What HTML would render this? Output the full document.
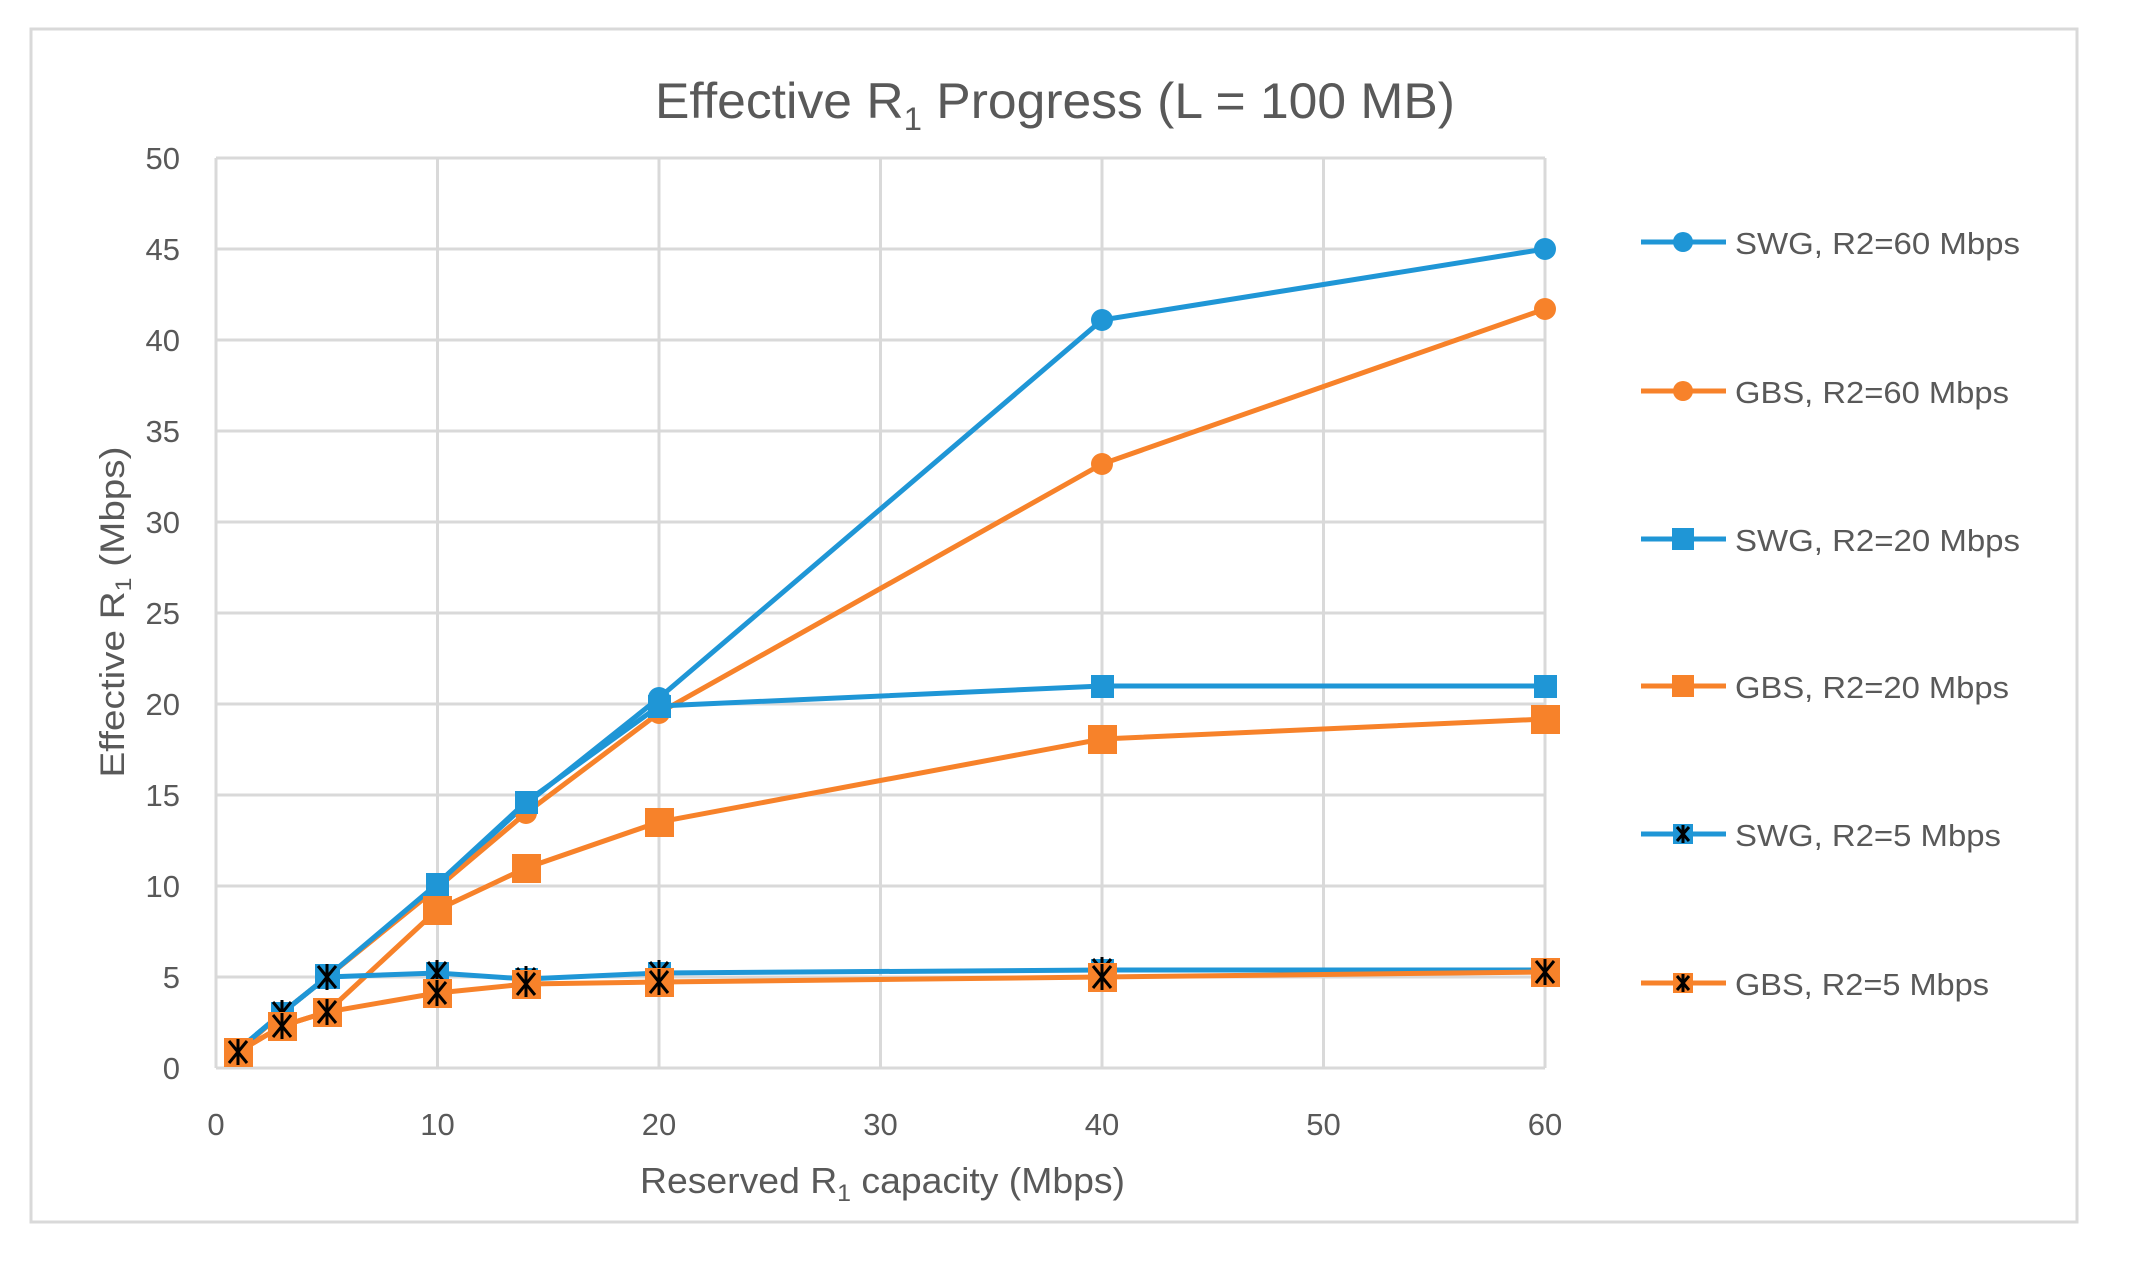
<!DOCTYPE html>
<html><head><meta charset="utf-8"><style>html,body{margin:0;padding:0;background:#fff}svg{display:block}</style></head>
<body>
<svg width="2129" height="1266" viewBox="0 0 2129 1266" xmlns="http://www.w3.org/2000/svg" font-family="Liberation Sans, sans-serif">
<rect x="0" y="0" width="2129" height="1266" fill="#fff"/>
<rect x="31" y="29" width="2046" height="1193" fill="#fff" stroke="#d9d9d9" stroke-width="3"/>
<text x="1055" y="118" font-size="50" fill="#595959" text-anchor="middle" textLength="800" lengthAdjust="spacingAndGlyphs">Effective R<tspan font-size="32" dy="12">1</tspan><tspan dy="-12"> Progress (L = 100 MB)</tspan></text>
<g stroke="#d9d9d9" stroke-width="3">
<line x1="216" y1="158" x2="1545" y2="158"/><line x1="216" y1="249" x2="1545" y2="249"/><line x1="216" y1="340" x2="1545" y2="340"/><line x1="216" y1="431" x2="1545" y2="431"/><line x1="216" y1="522" x2="1545" y2="522"/><line x1="216" y1="613" x2="1545" y2="613"/><line x1="216" y1="704" x2="1545" y2="704"/><line x1="216" y1="795" x2="1545" y2="795"/><line x1="216" y1="886" x2="1545" y2="886"/><line x1="216" y1="977" x2="1545" y2="977"/><line x1="216" y1="1068" x2="1545" y2="1068"/>
<line x1="216" y1="158" x2="216" y2="1068"/><line x1="437.5" y1="158" x2="437.5" y2="1068"/><line x1="659" y1="158" x2="659" y2="1068"/><line x1="880.5" y1="158" x2="880.5" y2="1068"/><line x1="1102" y1="158" x2="1102" y2="1068"/><line x1="1323.5" y1="158" x2="1323.5" y2="1068"/><line x1="1545" y1="158" x2="1545" y2="1068"/>
</g>
<g font-size="31" fill="#595959" text-anchor="end">
<text x="180" y="169">50</text><text x="180" y="260">45</text><text x="180" y="351">40</text><text x="180" y="442">35</text><text x="180" y="533">30</text><text x="180" y="624">25</text><text x="180" y="715">20</text><text x="180" y="806">15</text><text x="180" y="897">10</text><text x="180" y="988">5</text><text x="180" y="1079">0</text>
</g>
<g font-size="31" fill="#595959" text-anchor="middle">
<text x="216" y="1135">0</text><text x="437.5" y="1135">10</text><text x="659" y="1135">20</text><text x="880.5" y="1135">30</text><text x="1102" y="1135">40</text><text x="1323.5" y="1135">50</text><text x="1545" y="1135">60</text>
</g>
<text x="640" y="1193" font-size="36" fill="#595959" textLength="485" lengthAdjust="spacingAndGlyphs">Reserved  R<tspan font-size="24" dy="8">1</tspan><tspan dy="-8"> capacity (Mbps)</tspan></text>
<text transform="translate(124,612) rotate(-90)" x="0" y="0" font-size="34" fill="#595959" text-anchor="middle" textLength="331" lengthAdjust="spacingAndGlyphs">Effective R<tspan font-size="22" dy="7">1</tspan><tspan dy="-7">  (Mbps)</tspan></text>

<defs>
<g id="ast"><path d="M-9,-11 L9,11 M9,-11 L-9,11 M0,-13 L0,13" stroke="#000" stroke-width="3" fill="none"/></g>
</defs>
<!-- SWG60 -->
<polyline fill="none" stroke="#1f96d6" stroke-width="5" points="238,1050 282,1013 327,977 437,886 526,804 659,698 1102,320 1545,249"/>
<g fill="#1f96d6"><circle cx="238" cy="1050" r="11"/><circle cx="282" cy="1013" r="11"/><circle cx="327" cy="977" r="11"/><circle cx="437" cy="886" r="11"/><circle cx="526" cy="804" r="11"/><circle cx="659" cy="698" r="11"/><circle cx="1102" cy="320" r="11"/><circle cx="1545" cy="249" r="11"/></g>
<!-- GBS60 -->
<polyline fill="none" stroke="#f7822a" stroke-width="5" points="238,1052 282,1013 327,977 437,888 526,813 659,713 1102,464 1545,309"/>
<g fill="#f7822a"><circle cx="437" cy="888" r="11"/><circle cx="526" cy="813" r="11"/><circle cx="659" cy="713" r="11"/><circle cx="1102" cy="464" r="11"/><circle cx="1545" cy="309" r="11"/></g>
<!-- SWG20 -->
<polyline fill="none" stroke="#1f96d6" stroke-width="5" points="238,1050 282,1013 327,977 437,884 526,802 659,706 1102,686 1545,686"/>
<g fill="#1f96d6"><rect x="426" y="873" width="23" height="23"/><rect x="515" y="791" width="23" height="23"/><rect x="648" y="695" width="23" height="23"/><rect x="1091" y="675" width="23" height="23"/><rect x="1534" y="675" width="23" height="23"/></g>
<!-- GBS20 -->
<polyline fill="none" stroke="#f7822a" stroke-width="5" points="238,1052 282,1026 327,1012 437,910 526,868 659,822 1102,739 1545,719"/>
<g fill="#f7822a"><rect x="423" y="896" width="29" height="29"/><rect x="512" y="854" width="29" height="29"/><rect x="645" y="808" width="29" height="29"/><rect x="1088" y="725" width="29" height="29"/><rect x="1531" y="705" width="29" height="29"/></g>
<!-- SWG5 -->
<polyline fill="none" stroke="#1f96d6" stroke-width="5" points="238,1050 282,1013 327,977 437,973 526,979 659,973 1102,970 1545,970"/>
<g fill="#1f96d6"><rect x="227" y="1039" width="23" height="23"/><rect x="271" y="1002" width="23" height="23"/><rect x="315" y="964" width="25" height="25"/><rect x="426" y="962" width="23" height="23"/><rect x="515" y="968" width="23" height="23"/><rect x="648" y="962" width="23" height="23"/><rect x="1091" y="959" width="23" height="23"/><rect x="1534" y="959" width="23" height="23"/></g>
<g><use href="#ast" x="282" y="1013"/><use href="#ast" x="327" y="977"/><use href="#ast" x="437" y="973"/><use href="#ast" x="526" y="979"/><use href="#ast" x="659" y="973"/><use href="#ast" x="1102" y="970"/></g>
<!-- GBS5 -->
<polyline fill="none" stroke="#f7822a" stroke-width="5" points="238,1052 282,1026 327,1012 437,993 526,984 659,982 1102,977 1545,972"/>
<g fill="#f7822a"><rect x="224" y="1038" width="29" height="29"/><rect x="268" y="1012" width="29" height="29"/><rect x="313" y="998" width="29" height="29"/><rect x="423" y="979" width="29" height="29"/><rect x="512" y="970" width="29" height="29"/><rect x="645" y="968" width="29" height="29"/><rect x="1088" y="963" width="29" height="29"/><rect x="1531" y="958" width="29" height="29"/></g>
<g><use href="#ast" x="238" y="1052"/><use href="#ast" x="282" y="1026"/><use href="#ast" x="327" y="1012"/><use href="#ast" x="437" y="993"/><use href="#ast" x="526" y="984"/><use href="#ast" x="659" y="982"/><use href="#ast" x="1102" y="977"/><use href="#ast" x="1545" y="972"/></g>

<!-- Legend -->
<g stroke-width="5">
<line x1="1641" y1="242" x2="1726" y2="242" stroke="#1f96d6"/>
<line x1="1641" y1="391" x2="1726" y2="391" stroke="#f7822a"/>
<line x1="1641" y1="539" x2="1726" y2="539" stroke="#1f96d6"/>
<line x1="1641" y1="686" x2="1726" y2="686" stroke="#f7822a"/>
<line x1="1641" y1="834" x2="1726" y2="834" stroke="#1f96d6"/>
<line x1="1641" y1="983" x2="1726" y2="983" stroke="#f7822a"/>
</g>
<circle cx="1683" cy="242" r="10" fill="#1f96d6"/>
<circle cx="1683" cy="391" r="10" fill="#f7822a"/>
<rect x="1672" y="528" width="22" height="22" fill="#1f96d6"/>
<rect x="1672" y="675" width="22" height="22" fill="#f7822a"/>
<rect x="1673" y="824" width="20" height="20" fill="#1f96d6"/>
<path d="M1677,827 L1689,841 M1689,827 L1677,841 M1683,825 L1683,843" stroke="#000" stroke-width="3"/>
<rect x="1673" y="973" width="20" height="20" fill="#f7822a"/>
<path d="M1677,976 L1689,990 M1689,976 L1677,990 M1683,974 L1683,992" stroke="#000" stroke-width="3"/>
<g font-size="31" fill="#595959">
<text x="1735" y="254" textLength="285" lengthAdjust="spacingAndGlyphs">SWG, R2=60 Mbps</text>
<text x="1735" y="403" textLength="274" lengthAdjust="spacingAndGlyphs">GBS, R2=60 Mbps</text>
<text x="1735" y="551" textLength="285" lengthAdjust="spacingAndGlyphs">SWG, R2=20 Mbps</text>
<text x="1735" y="698" textLength="274" lengthAdjust="spacingAndGlyphs">GBS, R2=20 Mbps</text>
<text x="1735" y="846" textLength="266" lengthAdjust="spacingAndGlyphs">SWG, R2=5 Mbps</text>
<text x="1735" y="995" textLength="254" lengthAdjust="spacingAndGlyphs">GBS, R2=5 Mbps</text>
</g>
</svg>
</body></html>
